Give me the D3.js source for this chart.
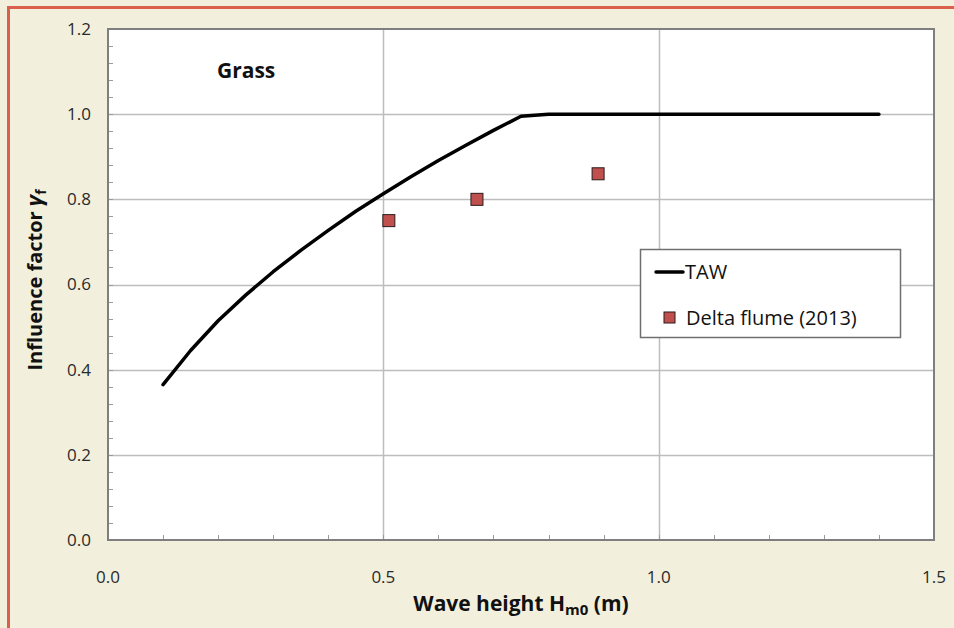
<!DOCTYPE html>
<html>
<head>
<meta charset="utf-8">
<script src="https://cdn.jsdelivr.net/npm/d3@7"></script>
<style>
  html, body { margin: 0; padding: 0; background: #f2f0dd; }
  svg { display: block; font-family: "Open Sans", Lato, sans-serif; }
</style>
</head>
<body>
<svg id="chart" width="954" height="628"></svg>
<script>
// TAW curve
const tawH = [0.10, 0.15, 0.20, 0.25, 0.30, 0.35, 0.40, 0.45, 0.50, 0.55, 0.60, 0.65, 0.70, 0.75, 0.80, 0.90, 1.00, 1.10, 1.20, 1.30, 1.40];
const tawGamma = [0.365, 0.445, 0.515, 0.575, 0.63, 0.68, 0.727, 0.772, 0.813, 0.853, 0.891, 0.927, 0.962, 0.995, 1.0, 1.0, 1.0, 1.0, 1.0, 1.0, 1.0];

// Delta flume measurements
const flumeH = [0.51, 0.67, 0.89];
const flumeGamma = [0.75, 0.80, 0.86];

const xTicks = [0.0, 0.5, 1.0, 1.5];
const yTicks = [0.0, 0.2, 0.4, 0.6, 0.8, 1.0, 1.2];

const svg = d3.select("#chart");

// outer frame (only top/left edges show in the picture)
svg.append("path")
    .attr("d", "M8.5,628 V7.5 H954")
    .attr("fill", "none")
    .attr("stroke", "#d9604a")
    .attr("stroke-width", 3);

const pL = 108, pR = 934, pT = 29, pB = 540;

const x = d3.scaleLinear().domain([0, 1.5]).range([pL, pR]);
const y = d3.scaleLinear().domain([0, 1.2]).range([pB, pT]);

// plot area
svg.append("rect")
    .attr("x", pL).attr("y", pT)
    .attr("width", pR - pL).attr("height", pB - pT)
    .attr("fill", "#fff");

// gridlines
const grid = svg.append("g").attr("stroke", "#bdbdbd").attr("stroke-width", 1.5);
yTicks.slice(1, -1).forEach(v => {
    grid.append("line").attr("x1", pL).attr("x2", pR)
        .attr("y1", Math.round(y(v)) + 0.5).attr("y2", Math.round(y(v)) + 0.5);
});
xTicks.slice(1, -1).forEach(v => {
    grid.append("line").attr("y1", pT).attr("y2", pB)
        .attr("x1", Math.round(x(v)) + 0.5).attr("x2", Math.round(x(v)) + 0.5);
});

// minor ticks pointing inwards
const minor = svg.append("g").attr("stroke", "#9a9a9a").attr("stroke-width", 1);
d3.range(0, 1.2001, 0.04).forEach(v => {
    minor.append("line").attr("x1", pL).attr("x2", pL + 5)
        .attr("y1", Math.round(y(v)) + 0.5).attr("y2", Math.round(y(v)) + 0.5);
});
d3.range(0, 1.5001, 0.1).forEach(v => {
    minor.append("line").attr("y1", pB).attr("y2", pB - 5)
        .attr("x1", Math.round(x(v)) + 0.5).attr("x2", Math.round(x(v)) + 0.5);
});

// plot border
svg.append("rect")
    .attr("x", pL).attr("y", pT)
    .attr("width", pR - pL).attr("height", pB - pT)
    .attr("fill", "none")
    .attr("stroke", "#7f7f7f")
    .attr("stroke-width", 2);

// tick labels
svg.append("g").selectAll("text")
    .data(yTicks).enter().append("text")
    .attr("x", 91).attr("y", d => y(d))
    .attr("dy", "0.35em")
    .attr("text-anchor", "end")
    .attr("font-size", 17)
    .attr("fill", "#2a2a2a")
    .text(d => d.toFixed(1));

svg.append("g").selectAll("text")
    .data(xTicks).enter().append("text")
    .attr("x", d => x(d)).attr("y", 577)
    .attr("dy", "0.35em")
    .attr("text-anchor", "middle")
    .attr("font-size", 17)
    .attr("fill", "#2a2a2a")
    .text(d => d.toFixed(1));

// TAW line
const line = d3.line().x((d, i) => x(tawH[i])).y(d => y(d));
svg.append("path")
    .attr("d", line(tawGamma))
    .attr("fill", "none")
    .attr("stroke", "#000")
    .attr("stroke-width", 3.5)
    .attr("stroke-linecap", "round")
    .attr("stroke-linejoin", "round");

// flume squares
const sq = 12;
svg.append("g").selectAll("rect")
    .data(flumeGamma).enter().append("rect")
    .attr("x", (d, i) => x(flumeH[i]) - sq / 2)
    .attr("y", d => y(d) - sq / 2)
    .attr("width", sq).attr("height", sq)
    .attr("fill", "#c0504d")
    .attr("stroke", "#2a1a1a")
    .attr("stroke-width", 1);

// Grass label
svg.append("text")
    .attr("x", 217).attr("y", 78)
    .attr("font-size", 21).attr("font-weight", "bold")
    .attr("fill", "#111")
    .text("Grass");

// legend
const lg = svg.append("g");
lg.append("rect")
    .attr("x", 640.5).attr("y", 249.5)
    .attr("width", 260).attr("height", 88)
    .attr("fill", "#fff")
    .attr("stroke", "#6f6f6f")
    .attr("stroke-width", 1.5);
lg.append("line")
    .attr("x1", 656).attr("x2", 683)
    .attr("y1", 272).attr("y2", 272)
    .attr("stroke", "#000").attr("stroke-width", 3.5)
    .attr("stroke-linecap", "round");
lg.append("text")
    .attr("x", 685).attr("y", 279)
    .attr("font-size", 20).attr("fill", "#111")
    .text("TAW");
lg.append("rect")
    .attr("x", 664).attr("y", 312)
    .attr("width", 11).attr("height", 11)
    .attr("fill", "#c0504d")
    .attr("stroke", "#2a1a1a").attr("stroke-width", 1);
lg.append("text")
    .attr("x", 686).attr("y", 325)
    .attr("font-size", 20).attr("fill", "#111")
    .text("Delta flume (2013)");

// axis titles
const xt = svg.append("text")
    .attr("x", 521).attr("y", 611)
    .attr("text-anchor", "middle")
    .attr("font-size", 21).attr("font-weight", "bold")
    .attr("fill", "#111");
xt.append("tspan").text("Wave height H");
xt.append("tspan").attr("font-size", 15).attr("dy", 4).text("m0");
xt.append("tspan").attr("dy", -4).text(" (m)");

const yt = svg.append("text")
    .attr("transform", "translate(42,280) rotate(-90)")
    .attr("text-anchor", "middle")
    .attr("font-size", 20).attr("font-weight", "bold")
    .attr("fill", "#111");
yt.append("tspan").text("Influence factor ");
yt.append("tspan").attr("font-style", "italic").attr("font-size", 22).text("γ");
yt.append("tspan").attr("font-size", 14).attr("dy", 4).text("f");
</script>
</body>
</html>
